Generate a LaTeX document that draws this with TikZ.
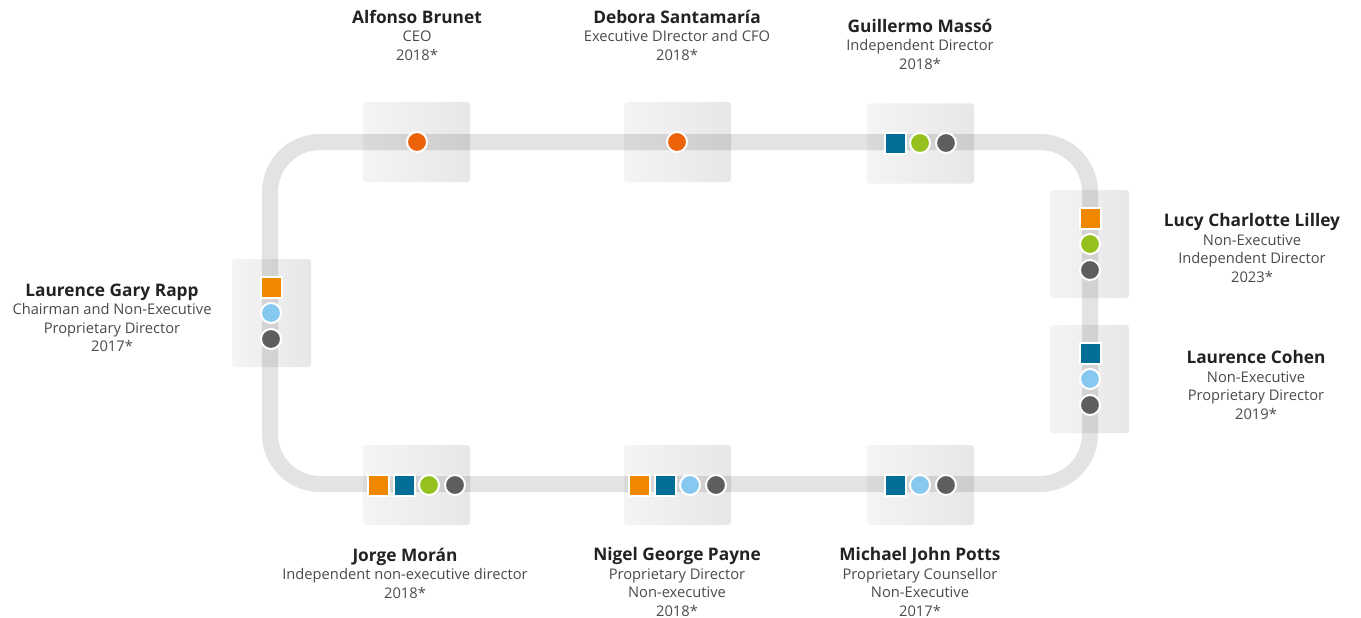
\documentclass[tikz,border=0pt]{standalone}
\usepackage{fontspec}
\setmainfont{Open Sans}
\definecolor{boxA}{HTML}{F4F4F4}
\definecolor{boxB}{HTML}{E7E7E7}
\definecolor{cOrSq}{HTML}{F08700}
\definecolor{cOrCi}{HTML}{EB6209}
\definecolor{cBlue}{HTML}{006E96}
\definecolor{cGreen}{HTML}{95C11F}
\definecolor{cLight}{HTML}{86C8F0}
\definecolor{cDark}{HTML}{5E5E5E}
\definecolor{cName}{HTML}{222222}
\definecolor{cSub}{HTML}{4A4A4A}
\newcommand{\nm}[1]{{\color{cName}\fontsize{17.3}{18}\selectfont\bfseries #1}}
\begin{document}
\begin{tikzpicture}[x=1pt,y=-1pt,
  panel/.style={rounded corners=3pt, left color=boxA, right color=boxB, draw=none, inner sep=0pt},
  track/.style={line width=16pt, draw=black, draw opacity=0.11, rounded corners=50pt},
  circ/.style={circle, minimum size=20pt, inner sep=0pt, draw=white, line width=2pt, fill=#1},
  sq/.style={rectangle, minimum size=21pt, inner sep=0pt, draw=white, line width=2pt, fill=#1},
  label/.style={align=center, inner sep=0pt, text=cSub, font=\fontsize{14.7}{18.5}\selectfont},
]
\useasboundingbox (0,0) rectangle (1361,618);
% panels
\node[panel, minimum width=107pt, minimum height=80pt] (pA) at (416.5,142) {};
\node[panel, minimum width=107pt, minimum height=80pt] (pD) at (677.5,142) {};
\node[panel, minimum width=107pt, minimum height=80pt] (pG) at (920.5,143.5) {};
\node[panel, minimum width=79pt, minimum height=108pt] (pL) at (271.5,313) {};
\node[panel, minimum width=79pt, minimum height=108pt] (pLu) at (1089.5,244) {};
\node[panel, minimum width=79pt, minimum height=108pt] (pC) at (1089.5,379) {};
\node[panel, minimum width=107pt, minimum height=80pt] (pJ) at (416.5,485) {};
\node[panel, minimum width=107pt, minimum height=80pt] (pN) at (677.5,485) {};
\node[panel, minimum width=107pt, minimum height=80pt] (pM) at (920.5,485) {};
% track
\draw[track] (270,142) rectangle (1090,484);
% markers
\node[circ=cOrCi] (a1) at (417,142) {};
\node[circ=cOrCi] (d1) at (677,142) {};
\node[sq=cBlue] (g1) at (895,143) {};
\node[circ=cGreen] (g2) at (920,143) {};
\node[circ=cDark] (g3) at (946,143) {};
\node[sq=cOrSq] (l1) at (271,287) {};
\node[circ=cLight] (l2) at (271,313) {};
\node[circ=cDark] (l3) at (271,339) {};
\node[sq=cOrSq] (u1) at (1090,218) {};
\node[circ=cGreen] (u2) at (1090,244) {};
\node[circ=cDark] (u3) at (1090,270) {};
\node[sq=cBlue] (c1) at (1090,353) {};
\node[circ=cLight] (c2) at (1090,379) {};
\node[circ=cDark] (c3) at (1090,405) {};
\node[sq=cOrSq] (j1) at (378,485) {};
\node[sq=cBlue] (j2) at (404,485) {};
\node[circ=cGreen] (j3) at (429,485) {};
\node[circ=cDark] (j4) at (455,485) {};
\node[sq=cOrSq] (n1) at (639,485) {};
\node[sq=cBlue] (n2) at (665,485) {};
\node[circ=cLight] (n3) at (690,485) {};
\node[circ=cDark] (n4) at (716,485) {};
\node[sq=cBlue] (m1) at (895,485) {};
\node[circ=cLight] (m2) at (920,485) {};
\node[circ=cDark] (m3) at (946,485) {};
% labels
\node[label] (tA) at (417,35) {\nm{Alfonso Brunet}\\CEO\\2018*};
\node[label] (tD) at (677,35) {\nm{Debora Santamaría}\\Executive DIrector and CFO\\2018*};
\node[label] (tG) at (920,44) {\nm{Guillermo Massó}\\Independent Director\\2018*};
\node[label] (tL) at (112,318) {\nm{Laurence Gary Rapp}\\Chairman and Non-Executive\\Proprietary Director\\2017*};
\node[label] (tLu) at (1252,248) {\nm{Lucy Charlotte Lilley}\\Non-Executive\\Independent Director\\2023*};
\node[label] (tC) at (1256,385) {\nm{Laurence Cohen}\\Non-Executive\\Proprietary Director\\2019*};
\node[label] (tJ) at (405,573) {\nm{Jorge Morán}\\Independent non-executive director\\2018*};
\node[label] (tN) at (677,582) {\nm{Nigel George Payne}\\Proprietary Director\\Non-executive\\2018*};
\node[label] (tM) at (920,582) {\nm{Michael John Potts}\\Proprietary Counsellor\\Non-Executive\\2017*};
\end{tikzpicture}
\end{document}
